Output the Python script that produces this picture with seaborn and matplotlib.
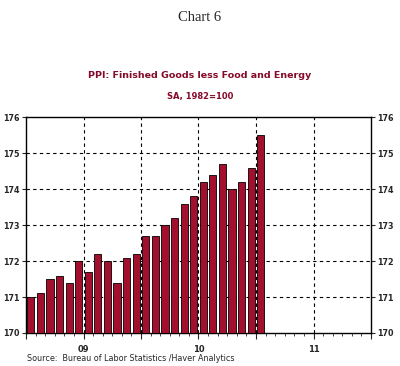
import numpy as np
import pandas as pd
import matplotlib
matplotlib.use("Agg")
import matplotlib.pyplot as plt
import seaborn as sns
from matplotlib.ticker import FixedLocator

# monthly PPI finished goods less food and energy, Jan 2009 - Jan 2011
months = pd.date_range("2009-01-01", "2011-01-01", freq="MS").strftime("%Y-%m").tolist()
values = [171.0, 171.1, 171.5, 171.6, 171.4, 172.0, 171.7, 172.2, 172.0, 171.4,
          172.1, 172.2, 172.7, 172.7, 173.0, 173.2, 173.6, 173.8, 174.2, 174.4,
          174.7, 174.0, 174.2, 174.6, 175.5]
year_labels = ["09", "10", "11"]
y_ticks = [170, 171, 172, 173, 174, 175, 176]

df = pd.DataFrame({"month": months, "ppi": values})

sns.set_style("white")
plt.rcParams["font.family"] = ["DejaVu Sans"]

fig = plt.figure(figsize=(4.0, 3.66), dpi=100)
ax = fig.add_axes([0.065, 0.0902, 0.8625, 0.589])

bar_color = "#a3102e"
sns.barplot(data=df, x="month", y="ppi", order=months, color=bar_color,
            saturation=1, width=0.74, edgecolor="black", linewidth=0.6,
            ax=ax, zorder=3)
# bars start from 170 instead of 0
for p in ax.patches:
    h = p.get_height()
    p.set_y(170)
    p.set_height(h - 170)

ax.set_xlim(-0.5, 35.5)
ax.set_ylim(170, 176)
ax.set_xlabel("")
ax.set_ylabel("")

# grid lines
for yv in y_ticks[1:-1]:
    ax.axhline(yv, color="black", lw=0.8, ls=(0, (3, 3)), zorder=1)
for xv in [5.5, 11.5, 17.5, 23.5, 29.5]:
    ax.axvline(xv, color="black", lw=0.8, ls=(0, (3, 3)), zorder=1)

ax.set_yticks(y_ticks)
ax.set_yticklabels([str(v) for v in y_ticks], fontsize=5.8, fontweight="bold")
ax.tick_params(axis="y", which="both", direction="out", length=3, width=0.8,
               left=True, right=True, labelleft=True, labelright=True, pad=1.5)

ax.xaxis.set_major_locator(FixedLocator([-0.5, 5.5, 11.5, 17.5, 23.5, 29.5, 35.5]))
ax.xaxis.set_minor_locator(FixedLocator(np.arange(-0.5, 36, 1.0)))
ax.set_xticklabels([])
ax.tick_params(axis="x", which="major", direction="out", length=4, width=0.8, bottom=True)
ax.tick_params(axis="x", which="minor", direction="out", length=2, width=0.6, bottom=True)

for lbl, xv in zip(year_labels, [5.5, 17.5, 29.5]):
    ax.text(xv, -0.075, lbl, transform=ax.get_xaxis_transform(), ha="center",
            va="center", fontsize=6, fontweight="bold")

for s in ax.spines.values():
    s.set_visible(True)
    s.set_color("black")
    s.set_linewidth(1.0)

fig.text(0.5, 0.952, "Chart 6", ha="center", va="center", fontsize=10.5,
         family="Liberation Serif")
title_color = "#850a2a"
fig.text(0.5, 0.795, "PPI: Finished Goods less Food and Energy", ha="center",
         va="center", fontsize=6.8, fontweight="bold", color=title_color)
fig.text(0.5, 0.735, "SA, 1982=100", ha="center", va="center", fontsize=6,
         fontweight="bold", color=title_color)
fig.text(0.068, 0.021, "Source:  Bureau of Labor Statistics /Haver Analytics",
         ha="left", va="center", fontsize=5.8)

fig.savefig("out.png", dpi=100)
